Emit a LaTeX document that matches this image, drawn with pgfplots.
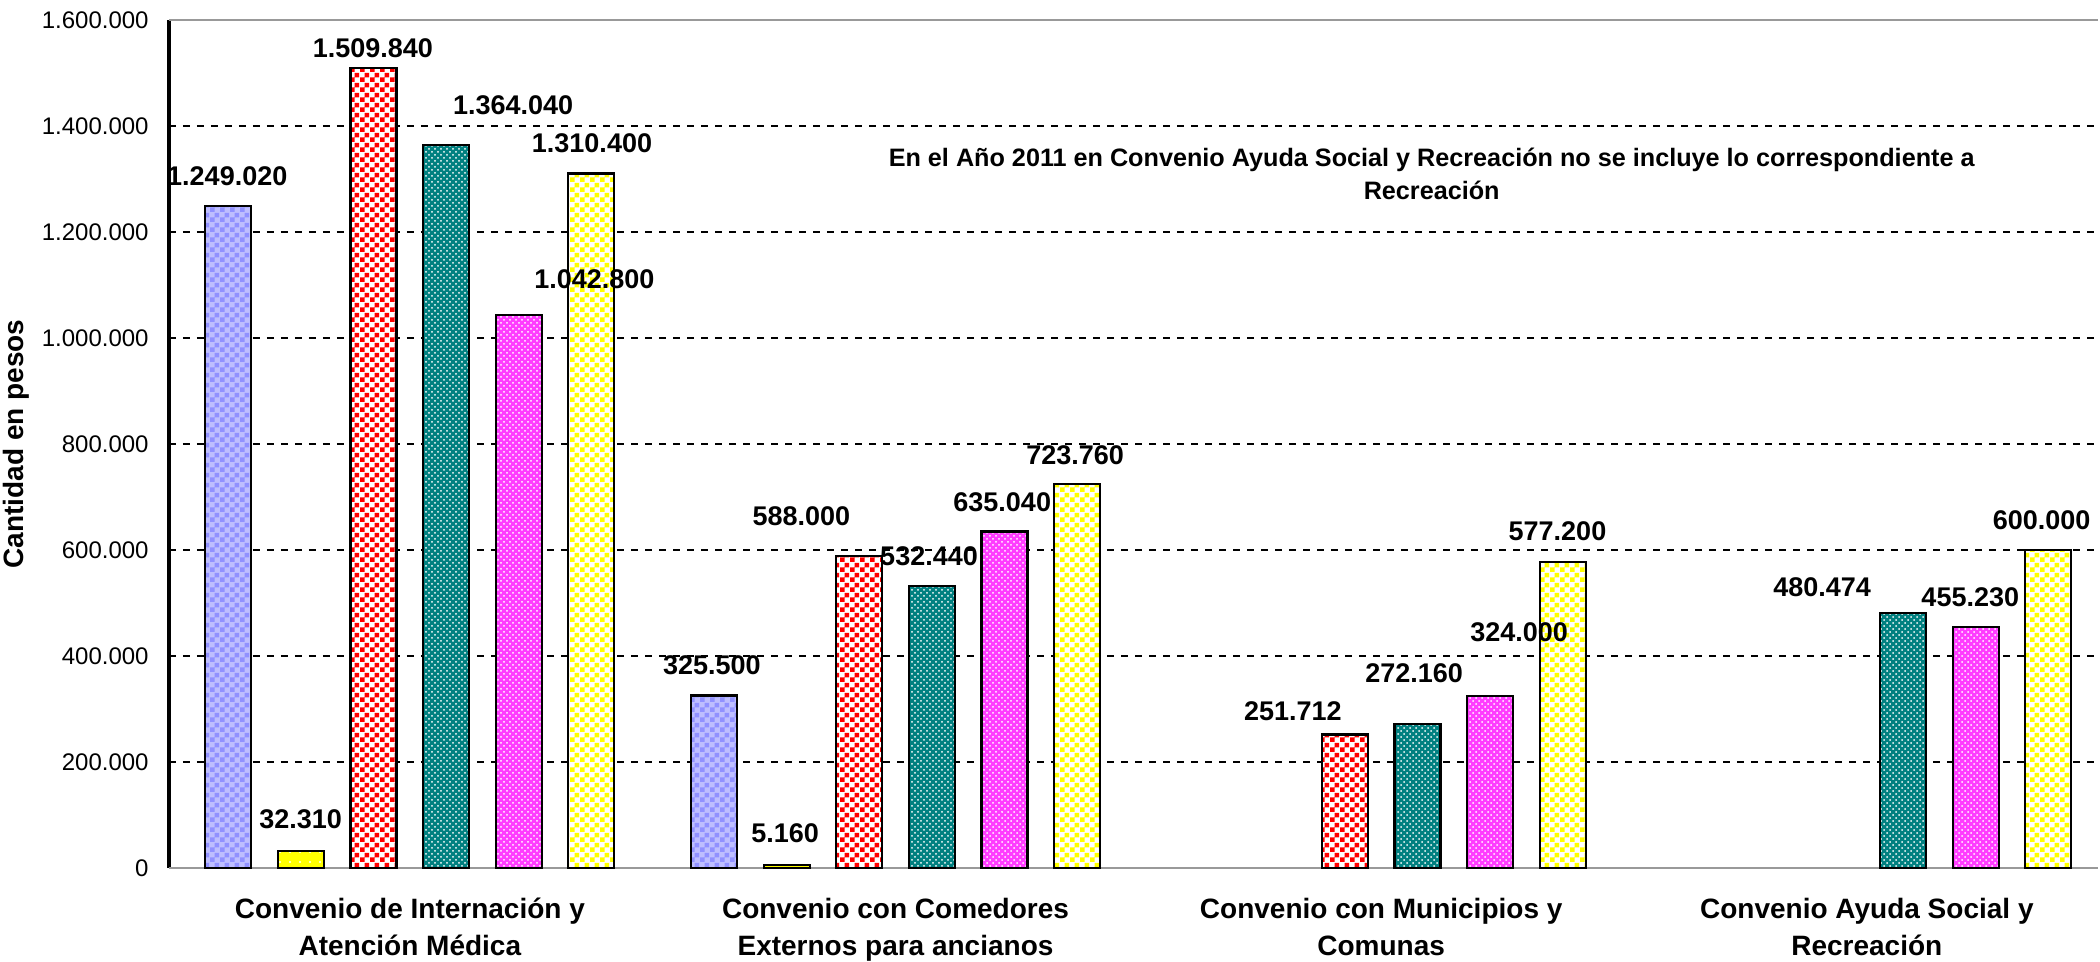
\documentclass[border=0pt]{standalone}
\usepackage{fontspec}
\setmainfont{Liberation Sans}
\usepackage{pgfplots}
\pgfplotsset{compat=1.18}
\usetikzlibrary{patterns}

\definecolor{lav}{RGB}{145,145,255}
\definecolor{lavlight}{RGB}{190,190,255}
\definecolor{tealc}{RGB}{0,128,128}
\definecolor{magc}{RGB}{255,60,255}
\definecolor{yel}{RGB}{255,255,0}

% checkerboard with 2.5pt squares
\pgfdeclarepatternformonly{checker}{\pgfpointorigin}{\pgfqpoint{5pt}{5pt}}{\pgfqpoint{5pt}{5pt}}{
  \pgfpathrectangle{\pgfpointorigin}{\pgfqpoint{2.55pt}{2.55pt}}
  \pgfpathrectangle{\pgfqpoint{2.5pt}{2.5pt}}{\pgfqpoint{2.55pt}{2.55pt}}
  \pgfusepath{fill}}
% sparse small dots
\pgfdeclarepatternformonly{sparsedots}{\pgfqpoint{-1pt}{-1pt}}{\pgfqpoint{1pt}{1pt}}{\pgfqpoint{5pt}{5pt}}{
  \pgfpathcircle{\pgfpointorigin}{0.6pt}
  \pgfusepath{fill}}

\newcommand{\lab}{\bfseries\fontsize{13.5}{15}\selectfont}

\begin{document}
\begin{tikzpicture}
\begin{axis}[
  name=ax,
  scale only axis,
  width=964.5pt, height=424pt,
  xmin=-0.496, xmax=3.476,
  ymin=0, ymax=1600000,
  enlargelimits=false,
  clip=false,
  ybar, bar width=23pt,
  axis x line=bottom, axis y line=left,
  x axis line style={-, draw=gray, line width=1pt},
  y axis line style={-, draw=black, line width=2pt},
  major tick length=0pt,
  xtick={0,1,2,3},
  xticklabels={{Convenio de Internación y\\Atención Médica},
               {Convenio con Comedores\\Externos para ancianos},
               {Convenio con Municipios y\\Comunas},
               {Convenio Ayuda Social y\\Recreación}},
  xticklabel style={align=center, inner sep=0pt, yshift=-15pt,
    font=\bfseries\fontsize{14}{18.5}\selectfont},
  ytick={200000,400000,600000,800000,1000000,1200000,1400000},
  extra y ticks={0,1600000},
  extra y tick style={major grid style={solid, draw=gray!80, line width=1pt}},
  scaled y ticks=false,
  yticklabel style={font=\fontsize{12}{14}\selectfont, inner sep=0pt, xshift=-10pt,
    /pgf/number format/.cd, fixed, 1000 sep={.}, assume math mode=true},
  ymajorgrids,
  major grid style={draw=black, dash pattern=on 3.5pt off 3.5pt, line width=1.3pt},
  ylabel={Cantidad en pesos},
  ylabel style={font=\bfseries\fontsize{14}{16}\selectfont, inner sep=0pt,
    at={(axis description cs:-0.0793,0.5)}, anchor=center},
  every axis plot/.append style={draw=black, line width=1.1pt},
]
% series 1
\addplot[bar shift=-90.75pt, preaction={fill=lavlight}, pattern=checker, pattern color=lav]
  coordinates {(0,1249020) (1,325500)};
% series 2
\addplot[bar shift=-54.45pt, preaction={fill=yel}, pattern=sparsedots, pattern color=white]
  coordinates {(0,32310) (1,5160)};
% series 3
\addplot[bar shift=-18.15pt, preaction={fill=white}, pattern=checker, pattern color=red]
  coordinates {(0,1509840) (1,588000) (2,251712)};
% series 4
\addplot[bar shift=18.15pt, preaction={fill=tealc}, pattern=crosshatch dots, pattern color=white]
  coordinates {(0,1364040) (1,532440) (2,272160) (3,480474)};
% series 5
\addplot[bar shift=54.45pt, preaction={fill=magc}, pattern=crosshatch dots, pattern color=white]
  coordinates {(0,1042800) (1,635040) (2,324000) (3,455230)};
% series 6
\addplot[bar shift=90.75pt, preaction={fill=white}, pattern=checker, pattern color=yel]
  coordinates {(0,1310400) (1,723760) (2,577200) (3,600000)};

% data labels, placed where the original has them
\node[font=\lab] at (axis cs:-0.376,1305700) {1.249.020};
\node[font=\lab] at (axis cs:-0.225,92500) {32.310};
\node[font=\lab] at (axis cs:-0.076,1547000) {1.509.840};
\node[font=\lab] at (axis cs:0.2125,1439600) {1.364.040};
\node[font=\lab] at (axis cs:0.375,1368000) {1.310.400};
\node[font=\lab] at (axis cs:0.380,1111300) {1.042.800};
\node[font=\lab] at (axis cs:0.622,383000) {325.500};
\node[font=\lab] at (axis cs:0.7727,65100) {5.160};
\node[font=\lab] at (axis cs:0.806,664000) {588.000};
\node[font=\lab] at (axis cs:1.069,589000) {532.440};
\node[font=\lab] at (axis cs:1.2197,690600) {635.040};
\node[font=\lab] at (axis cs:1.370,779000) {723.760};
\node[font=\lab] at (axis cs:1.818,296000) {251.712};
\node[font=\lab] at (axis cs:2.068,368000) {272.160};
\node[font=\lab] at (axis cs:2.284,445000) {324.000};
\node[font=\lab] at (axis cs:2.363,635000) {577.200};
\node[font=\lab] at (axis cs:2.908,530000) {480.474};
\node[font=\lab] at (axis cs:3.213,511000) {455.230};
\node[font=\lab] at (axis cs:3.360,656600) {600.000};

\node[font=\bfseries\fontsize{12.6}{16.5}\selectfont, align=center] at (axis cs:2.104,1310000)
  {En el Año 2011 en Convenio Ayuda Social y Recreación no se incluye lo correspondiente a\\Recreación};
\end{axis}
\path ([shift={(-84.5pt,-47pt)}]ax.south west) rectangle ([shift={(1pt,10pt)}]ax.north east);
\end{tikzpicture}
\end{document}
